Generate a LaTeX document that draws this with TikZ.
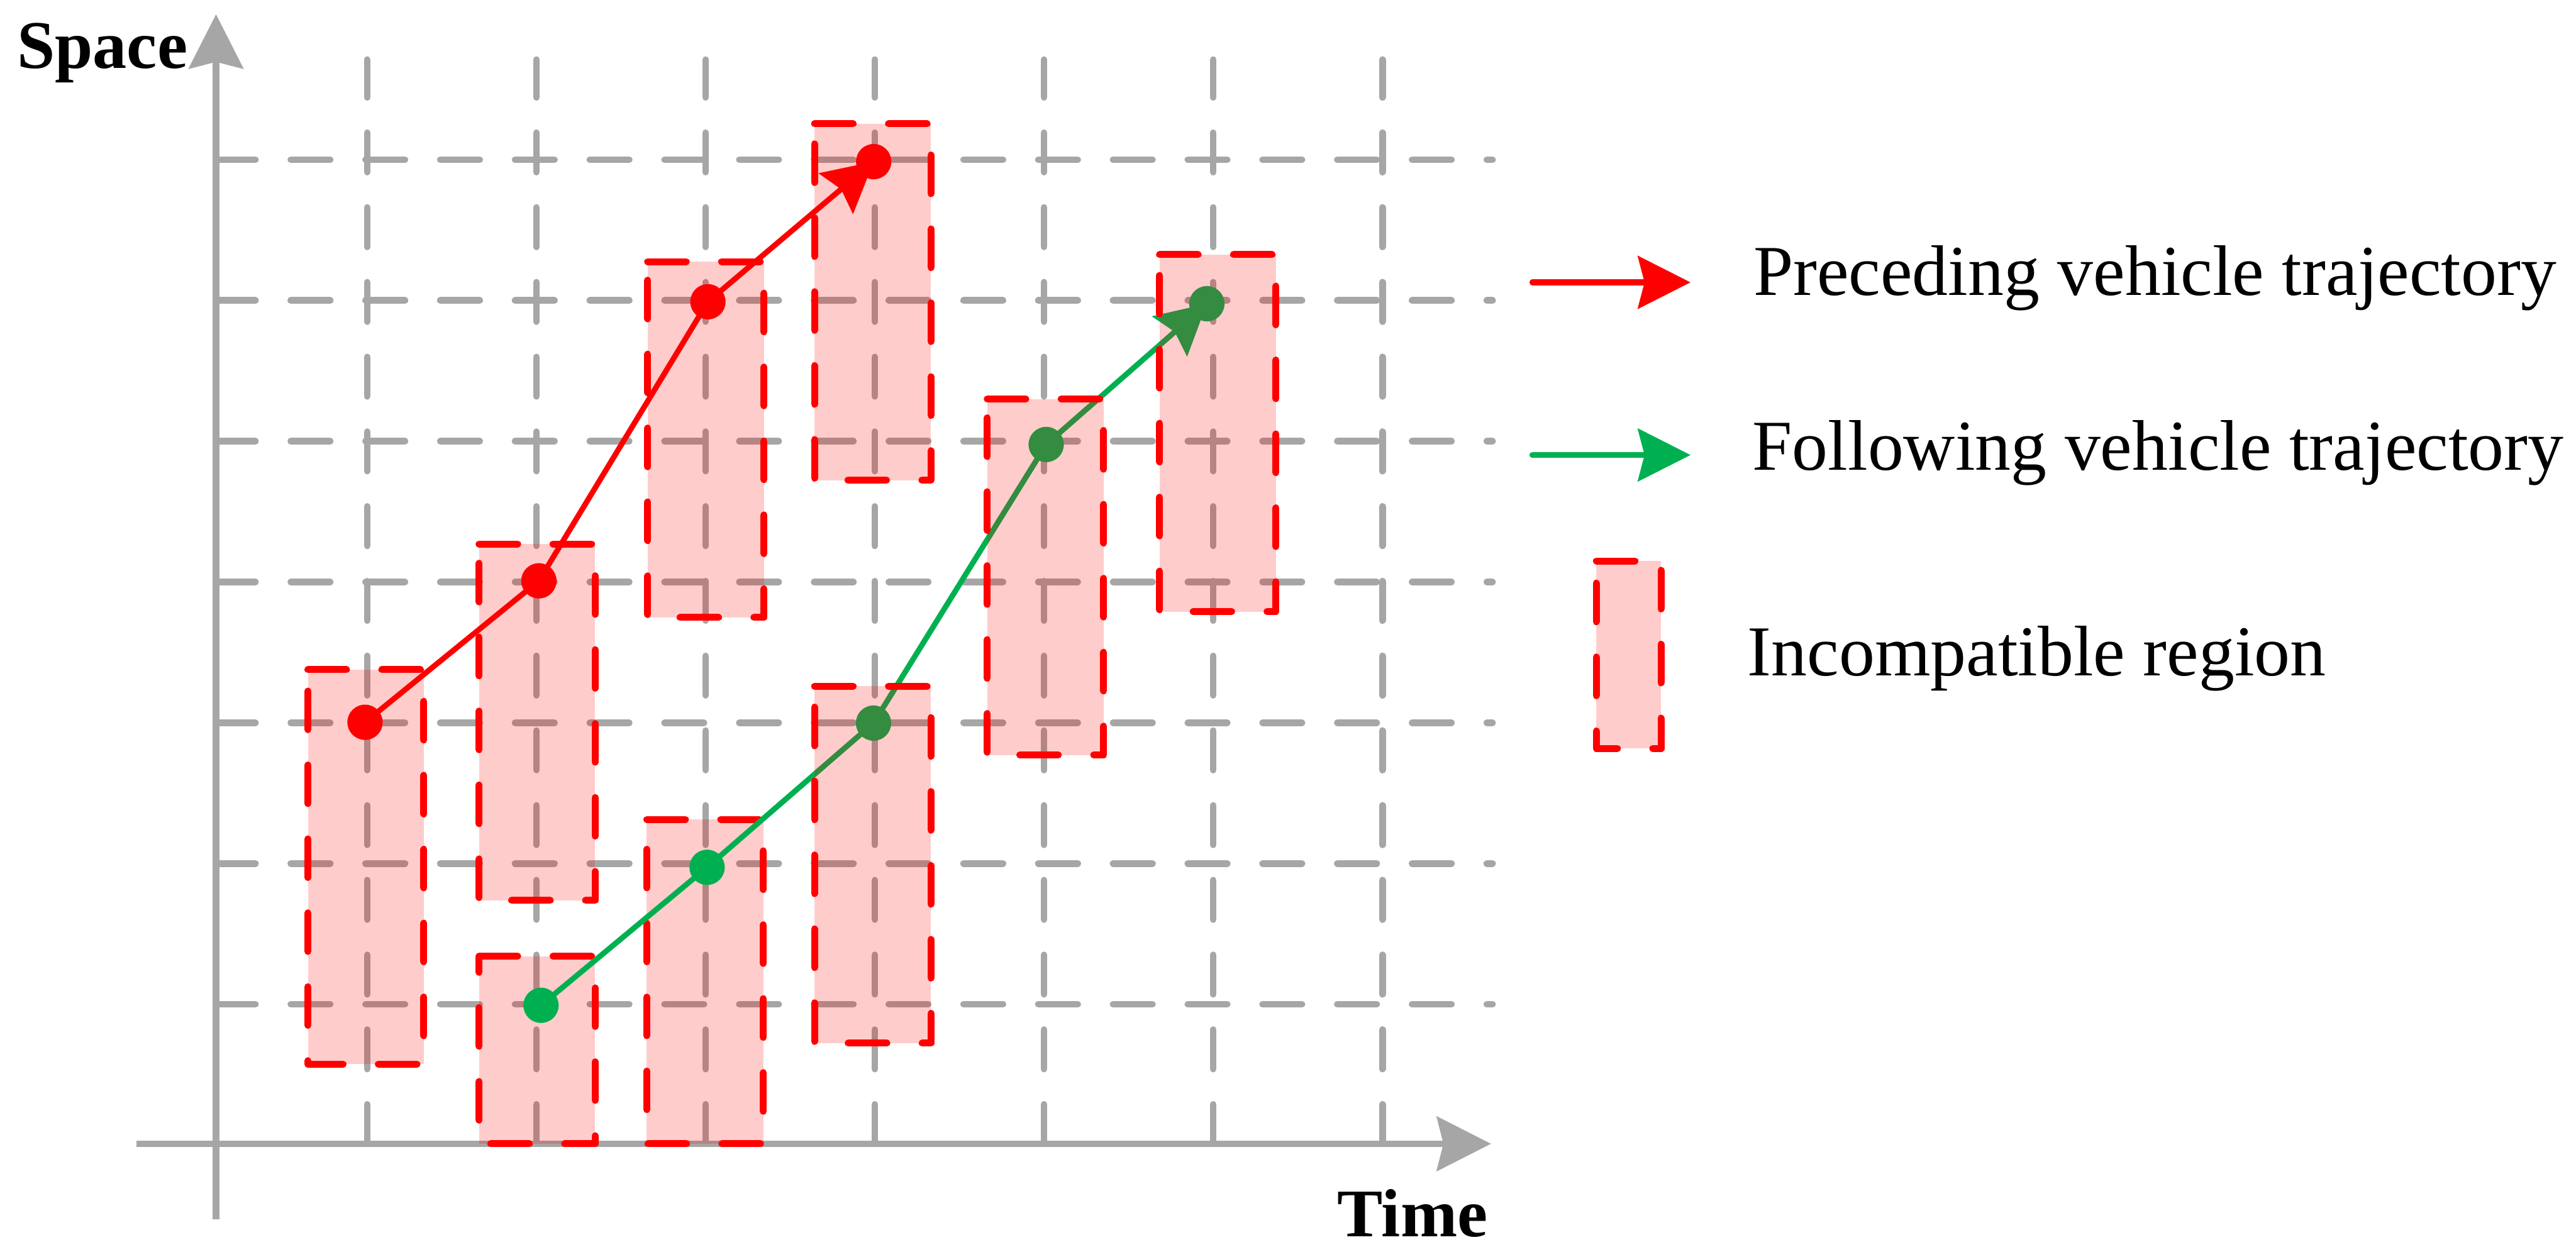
\documentclass[tikz,border=0pt]{standalone}
\usepackage{fontspec}
\setmainfont{Liberation Serif}
\usetikzlibrary{arrows.meta, positioning}
\definecolor{gridgray}{RGB}{166,166,166}
\definecolor{leadred}{RGB}{255,0,0}
\definecolor{followgreen}{RGB}{0,176,80}

\tikzset{
  gridline/.style={gridgray, line width=1.15pt, line cap=round,
    dash pattern=on 0.24cm off 0.215cm},
  axisline/.style={gridgray, line width=1.15pt,
    -{Stealth[length=0.33cm, width=0.33cm, inset=0.04cm]}},
  zonefill/.style={fill=leadred, fill opacity=0.2},
  zoneedge/.style={leadred, line width=1.2pt, line cap=round, line join=round,
    dash pattern=on 0.235cm off 0.215cm},
  traj/.style={line width=0.95pt,
    -{Stealth[length=0.3cm, width=0.32cm, inset=0.04cm]}},
  legendarrow/.style={line width=1pt, line cap=round,
    -{Stealth[length=0.32cm, width=0.32cm, inset=0.04cm]}},
  trajdot/.style={circle, fill=#1, inner sep=0pt, minimum size=0.215cm},
  legendtext/.style={font=\fontsize{12.4}{14}\selectfont, anchor=base west, inner sep=0pt},
  axislabel/.style={font=\bfseries\fontsize{11.8}{14}\selectfont, anchor=base, inner sep=0pt}
}

\begin{document}
\begin{tikzpicture}
  \useasboundingbox (-1.315,-0.657) rectangle (14.365,6.963);

  % Grid (time steps / space cells)
  \foreach \i in {0,...,6}
    \draw[gridline] ({0.92+1.03*\i},0) -- ++(0,6.6);
  \foreach \j in {0,...,6}
    \draw[gridline] (0,{0.849+0.857*\j}) -- ++(7.77,0);

  % Axes
  \coordinate (ybot) at (0,-0.46);
  \coordinate (ytop) at (0,6.876);
  \coordinate (xleft) at (-0.485,0);
  \coordinate (xright) at (7.761,0);
  \draw[axisline] (ybot) -- (ytop);
  \draw[axisline] (xleft) -- (xright);
  \node[axislabel] (space) at (-0.692,6.547) {Space};
  \node[axislabel] (time) at (7.283,-0.565) {Time};

  % Incompatible regions (below the trajectories)
  \foreach \xa/\ya/\xb/\yb in {0.559/0.485/1.265/2.887, 1.601/1.482/2.308/3.651,
      1.601/0/2.308/1.142, 2.627/3.204/3.335/5.370, 2.622/0/3.331/1.974,
      3.643/4.040/4.352/6.210}
  {
    \fill[zonefill] (\xa,\ya) rectangle (\xb,\yb);
    \draw[zoneedge] (\xa,\yb) -- (\xb,\yb) -- (\xb,\ya) -- (\xa,\ya) -- cycle;
  }

  % Trajectory points
  \coordinate (p1) at (0.907,2.566);
  \coordinate (p2) at (1.965,3.427);
  \coordinate (p3) at (2.994,5.126);
  \coordinate (p4) at (4.003,5.979);
  \coordinate (g1) at (1.978,0.843);
  \coordinate (g2) at (2.989,1.683);
  \coordinate (g3) at (4.002,2.561);
  \coordinate (g4) at (5.053,4.257);
  \coordinate (g5) at (6.031,5.114);

  % Preceding and following vehicle trajectories
  \draw[traj, leadred] (p1) -- (p2) -- (p3) -- (p4);
  \draw[traj, followgreen] (g1) -- (g2) -- (g3) -- (g4) -- (g5);
  \foreach \p in {p1,p2,p3,p4}
    \node[trajdot=leadred] (\p-dot) at (\p) {};
  \foreach \p in {g1,g2,g3,g4,g5}
    \node[trajdot=followgreen] (\p-dot) at (\p) {};

  % Incompatible regions (over the following trajectory)
  \foreach \xa/\ya/\xb/\yb in {3.643/0.613/4.352/2.785, 4.694/2.367/5.402/4.534,
      5.743/3.240/6.451/5.413}
  {
    \fill[zonefill] (\xa,\ya) rectangle (\xb,\yb);
    \draw[zoneedge] (\xa,\yb) -- (\xb,\yb) -- (\xb,\ya) -- (\xa,\ya) -- cycle;
  }

  % Legend
  \coordinate (leadA) at (8.012,5.244);
  \coordinate (leadB) at (8.975,5.244);
  \draw[legendarrow, leadred] (leadA) -- (leadB);
  \node[legendtext] (leadtext) at (9.351,5.167) {Preceding vehicle trajectory};

  \coordinate (followA) at (8.012,4.193);
  \coordinate (followB) at (8.975,4.193);
  \draw[legendarrow, followgreen] (followA) -- (followB);
  \node[legendtext] (followtext) at (9.345,4.100) {Following vehicle trajectory};

  \fill[zonefill] (8.402,2.406) rectangle (8.795,3.548);
  \draw[zoneedge] (8.402,3.548) -- (8.795,3.548) -- (8.795,2.406) -- (8.402,2.406) -- cycle;
  \node[legendtext] (zonetext) at (9.315,2.851) {Incompatible region};
\end{tikzpicture}
\end{document}
